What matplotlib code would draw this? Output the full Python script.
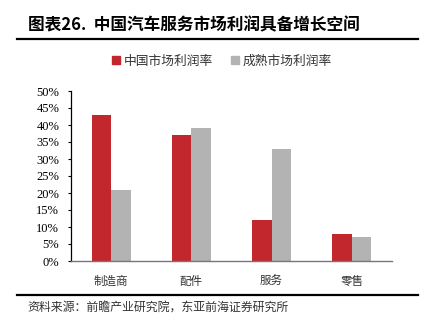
import matplotlib
matplotlib.use("Agg")
import matplotlib.pyplot as plt
import numpy as np
from matplotlib.lines import Line2D
from matplotlib.ticker import MultipleLocator, FuncFormatter

plt.rcParams['font.family'] = ['Noto Sans CJK SC', 'DejaVu Sans']

categories = ["制造商", "配件", "服务", "零售"]
china_margin = [43, 37, 12, 8]
mature_margin = [21, 39, 33, 7]
series_names = ["中国市场利润率", "成熟市场利润率"]
title_text = "图表26.  中国汽车服务市场利润具备增长空间"
source_text = "资料来源：前瞻产业研究院，东亚前海证券研究所"

red = "#C1272D"
gray = "#B3B3B3"

W, H = 421, 327
fig = plt.figure(figsize=(W / 100, H / 100), dpi=100)

ax = fig.add_axes([71 / W, 1 - 261 / H, 321 / W, 170 / H])
x = np.arange(len(categories))
bw = 0.243
ax.bar(x - bw / 2, china_margin, width=bw, color=red, label=series_names[0])
ax.bar(x + bw / 2, mature_margin, width=bw, color=gray, label=series_names[1])

ax.set_xlim(-0.5, len(categories) - 0.5)
ax.set_ylim(0, 50)
ax.yaxis.set_major_locator(MultipleLocator(5))
ax.yaxis.set_major_formatter(FuncFormatter(lambda v, _: f"{v:.0f}%"))
for lbl in ax.get_yticklabels():
    lbl.set_fontfamily("Liberation Serif")
ax.tick_params(axis='y', labelsize=9, length=2.5, width=0.8, pad=6, direction='out')
ax.set_xticks(x)
ax.set_xticklabels(categories, fontsize=8.3, color="#333333")
ax.tick_params(axis='x', length=0, pad=10)
for s in ("top", "right"):
    ax.spines[s].set_visible(False)
ax.spines["left"].set_color("#000000")
ax.spines["left"].set_linewidth(0.9)
ax.spines["bottom"].set_color("#777777")
ax.spines["bottom"].set_linewidth(1.0)

# legend
handles = [Line2D([], [], marker='s', linestyle='none', markersize=5.5, color=red),
           Line2D([], [], marker='s', linestyle='none', markersize=5.5, color=gray)]
fig.legend(handles, series_names, loc='center', bbox_to_anchor=(222 / W, 1 - 61 / H),
           ncol=2, frameon=False, fontsize=9.2, handlelength=0.6, handletextpad=0.3,
           columnspacing=1.4, labelcolor="#333333")

# title and rules
fig.text(28 / W, 1 - 25 / H, title_text, fontsize=12, fontweight='bold',
         va='center', ha='left', color="#000000")
fig.add_artist(Line2D([17 / W, 418 / W], [1 - 38.5 / H] * 2, color="#000000", lw=1.6))
fig.add_artist(Line2D([17 / W, 418 / W], [1 - 295 / H] * 2, color="#000000", lw=1.6))
fig.text(27 / W, 1 - 308 / H, source_text, fontsize=8.6, va='center', ha='left',
         color="#333333")

fig.savefig("out.png", dpi=100)
